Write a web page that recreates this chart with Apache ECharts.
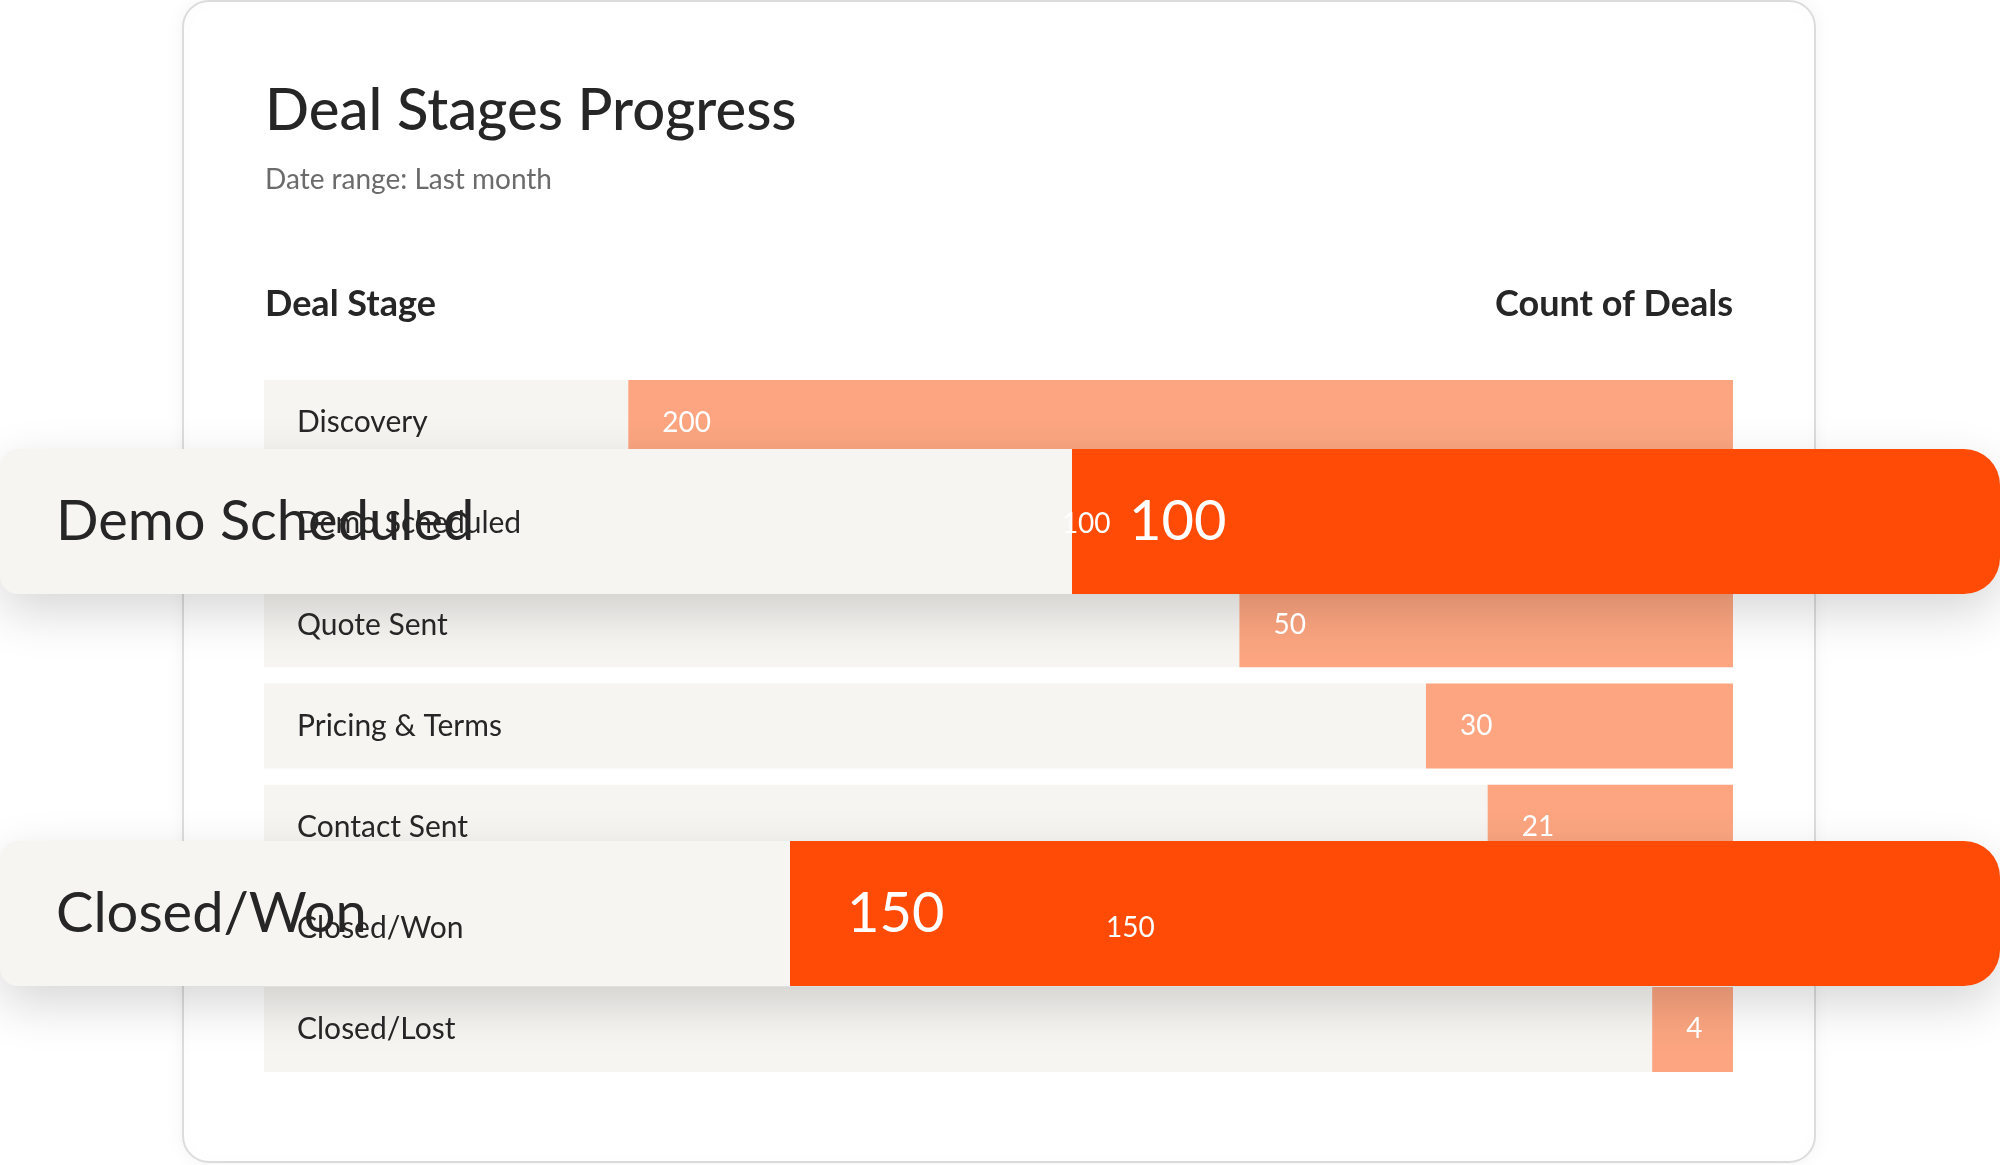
<!DOCTYPE html>
<html>
<head>
<meta charset="utf-8">
<script src="https://cdn.jsdelivr.net/npm/echarts@6/dist/echarts.min.js"></script>
<style>html,body{margin:0;padding:0;background:#fff}#c{width:2000px;height:1165px}</style>
</head>
<body>
<div id="c"></div>
<script>
// rows of the card, top to bottom
var stages = ['Discovery', 'Demo Scheduled', 'Quote Sent', 'Pricing & Terms', 'Contact Sent', 'Closed/Won', 'Closed/Lost'];
var deals = [200, 100, 50, 30, 21, 150, 4];
// share of the track filled by the orange bar (%)
var share = [75.2, 48, 33.6, 20.9, 16.7, 45, 5.5];

// the two highlighted rows that pop out of the card
var popStages = ['Demo Scheduled', 'Closed/Won'];
var popDeals = [100, 150];
var popShare = [46.4, 60.5];
var popTop = [449, 841];

var FONT = 'Lato';
var DARK = '#262626';
var GRAY = '#f6f5f2';

var chart = echarts.init(document.getElementById('c'));

var grids = [{ left: 264, right: 267, top: 372, height: 708 }];
var xAxes = [{ gridIndex: 0, type: 'value', min: 0, max: 100, show: false }];
var yAxes = [{ gridIndex: 0, type: 'category', data: stages, inverse: true, show: false }];

var series = [{
  type: 'bar', xAxisIndex: 0, yAxisIndex: 0, barWidth: 85, barGap: '-100%',
  data: stages.map(function () { return 100; }),
  itemStyle: { color: GRAY }, silent: true,
  label: { show: true, position: 'insideLeft', distance: 33, color: DARK, fontSize: 30, fontFamily: FONT,
    formatter: function (p) { return stages[p.dataIndex]; } }
}, {
  type: 'bar', xAxisIndex: 0, yAxisIndex: 0, stack: 'main', barWidth: 85, barGap: '-100%',
  data: share.map(function (s) { return 100 - s; }),
  itemStyle: { color: 'transparent' }, silent: true
}, {
  type: 'bar', xAxisIndex: 0, yAxisIndex: 0, stack: 'main', barWidth: 85, barGap: '-100%',
  data: share, itemStyle: { color: '#fca580' },
  label: { show: true, position: 'insideLeft', distance: 34, color: '#fff', fontSize: 28, fontFamily: FONT,
    formatter: function (p) { return deals[p.dataIndex]; } }
}];

popStages.forEach(function (name, i) {
  var g = i + 1;
  grids.push({ left: 0, right: 0, top: popTop[i], height: 145 });
  xAxes.push({ gridIndex: g, type: 'value', min: 0, max: 100, show: false });
  yAxes.push({ gridIndex: g, type: 'category', data: [name], show: false });
  series.push({
    type: 'bar', xAxisIndex: g, yAxisIndex: g, barWidth: 145, barGap: '-100%', data: [100],
    itemStyle: { color: GRAY, borderRadius: [18, 36, 36, 18], shadowBlur: 50, shadowOffsetY: 18, shadowColor: 'rgba(0,0,0,0.16)' },
    label: { show: true, position: 'insideLeft', distance: 56, color: DARK, fontSize: 56, fontFamily: FONT, formatter: name }
  }, {
    type: 'bar', xAxisIndex: g, yAxisIndex: g, stack: 'pop' + g, barWidth: 145, barGap: '-100%',
    data: [100 - popShare[i]], itemStyle: { color: 'transparent' }
  }, {
    type: 'bar', xAxisIndex: g, yAxisIndex: g, stack: 'pop' + g, barWidth: 145, barGap: '-100%',
    data: [popShare[i]], itemStyle: { color: '#ff4b05', borderRadius: [0, 36, 36, 0] },
    label: { show: true, position: 'insideLeft', distance: 57, color: '#fff', fontSize: 56, fontFamily: FONT, formatter: String(popDeals[i]) }
  });
});

chart.setOption({
  animation: false,
  grid: grids, xAxis: xAxes, yAxis: yAxes, series: series,
  graphic: [{
    type: 'rect', z: -10, shape: { x: 183, y: 1, width: 1632, height: 1161, r: 26 },
    style: { fill: '#fff', stroke: '#dcdcdc', lineWidth: 2, shadowBlur: 20, shadowColor: 'rgba(0,0,0,0.06)' }
  }, {
    type: 'text', left: 265, top: 82, style: { text: 'Deal Stages Progress', font: '500 58px ' + FONT, fill: DARK }
  }, {
    type: 'text', left: 265, top: 166, style: { text: 'Date range: Last month', font: '28px ' + FONT, fill: '#6b6b6b' }
  }, {
    type: 'text', left: 265, top: 286, style: { text: 'Deal Stage', font: 'bold 36px ' + FONT, fill: DARK }
  }, {
    type: 'text', right: 267, top: 286, style: { text: 'Count of Deals', font: 'bold 36px ' + FONT, fill: DARK }
  }]
});
</script>
</body>
</html>
